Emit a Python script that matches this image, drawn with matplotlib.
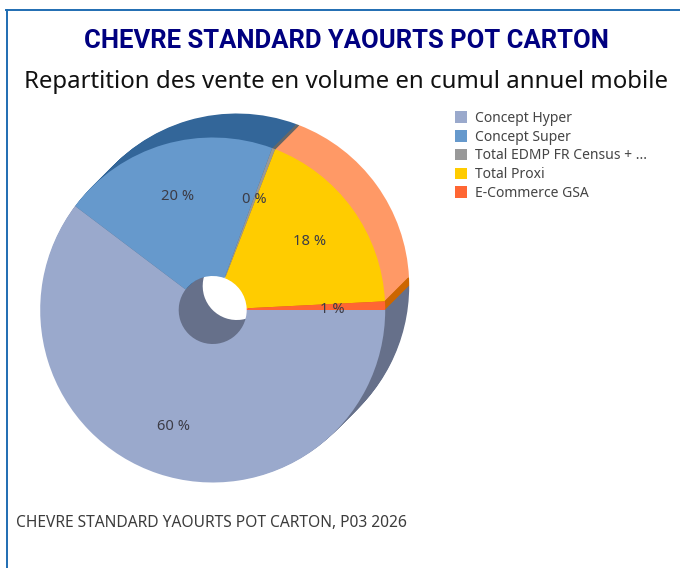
import matplotlib
matplotlib.use("Agg")
import matplotlib.pyplot as plt
from matplotlib.lines import Line2D

plt.rcParams['font.family'] = ['Noto Sans', 'DejaVu Sans']

categories = ["Concept Hyper", "Concept Super", "Total EDMP FR Census + ...", "Total Proxi", "E-Commerce GSA"]
values = [60.3, 20.3, 0.3, 18.3, 0.8]
colors = ["#9AA9CC", "#6699CC", "#999999", "#FFCC00", "#FF6633"]
back_colors = ["#66708A", "#336699", "#666666", "#FF9966", "#CC6600"]

title = "CHEVRE STANDARD YAOURTS POT CARTON"
subtitle = "Repartition des vente en volume en cumul annuel mobile"
footer = "CHEVRE STANDARD YAOURTS POT CARTON, P03 2026"

W, H = 680, 568
fig = plt.figure(figsize=(W/100, H/100), dpi=100)
ax = fig.add_axes([0, 0, 1, 1])

cx, cy = 212.7, H - 310   # centre of the front pie, in pixels
radius = 172.5
hole = 34
depth = 24   # the extrusion goes up and to the right

# fake 3d: stack of dark pies from the back to just behind the front one
for s in range(depth, 0, -1):
    ax.pie(values, colors=back_colors, startangle=0, counterclock=False,
           center=(cx + s, cy + s), radius=radius,
           wedgeprops=dict(width=radius - hole, linewidth=0))

wedges, _, autotexts = ax.pie(values, colors=colors, startangle=0, counterclock=False,
                              center=(cx, cy), radius=radius,
                              autopct='%.0f %%', pctdistance=0.70,
                              wedgeprops=dict(width=radius - hole, linewidth=0))
for t in autotexts:
    t.set_fontsize(10.6)
    t.set_color("#3C3C46")
    # labels sit a little lower left than pie puts them
    x, y = t.get_position()
    t.set_position((x - 1, y - 2.5))

ax.set_xlim(0, W)
ax.set_ylim(0, H)
ax.set_aspect('equal')
ax.axis('off')

# frame, only left and top are inside the crop
fig.add_artist(Line2D([6.5/W, 6.5/W], [0, 1 - 10/H], color="#1F6DB2", lw=1.4))
fig.add_artist(Line2D([6/W, 1], [1 - 10/H, 1 - 10/H], color="#1F6DB2", lw=1.4))

fig.text(346/W, 1 - 41/H, title, ha='center', va='center', fontsize=18.45,
         fontweight='bold', color="#000080", family=['Roboto', 'DejaVu Sans'])
fig.text(346/W, 1 - 82/H, subtitle, ha='center', va='center', fontsize=17.25, color="#111111")
fig.text(16/W, 1 - 523/H, footer, ha='left', va='center', fontsize=11.2, color="#3C3C3C")

ax.legend(wedges, categories, loc='upper left', bbox_to_anchor=(455/W, 1 - 111/H),
          bbox_transform=fig.transFigure, frameon=False, fontsize=10,
          labelcolor="#444444", handlelength=0.9, handleheight=0.9,
          handletextpad=0.55, labelspacing=0.266, borderpad=0, borderaxespad=0)

fig.savefig("out.png", dpi=100)
